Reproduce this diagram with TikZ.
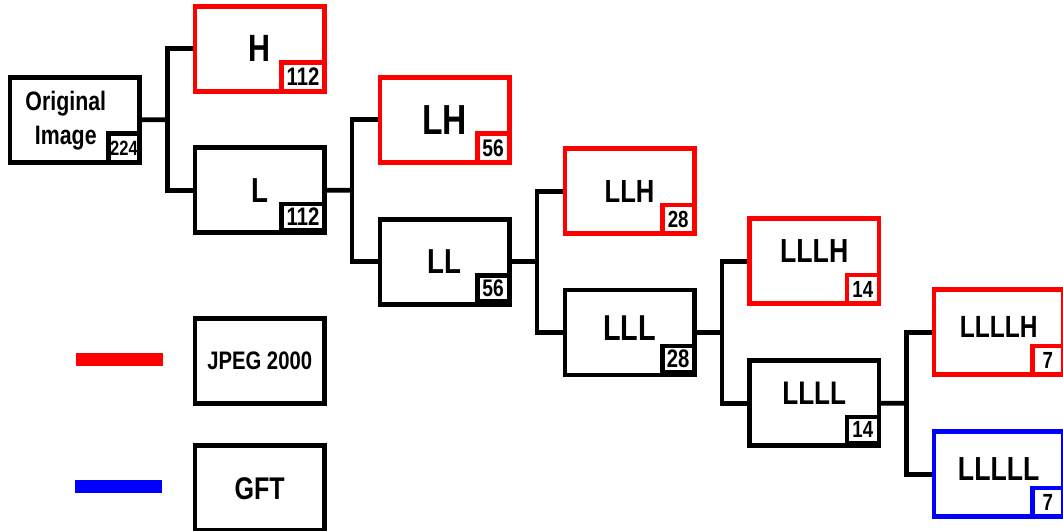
\documentclass[tikz,border=0pt]{standalone}
\usepackage{fontspec}
\setmainfont{Liberation Sans}[FakeStretch=0.8]
\usetikzlibrary{calc}

\definecolor{jpegred}{RGB}{255,0,0}
\definecolor{gftblue}{RGB}{0,0,255}

\newcommand{\fsz}[1]{\fontsize{#1}{1.2\dimexpr#1\relax}\selectfont\bfseries}

\begin{document}
\begin{tikzpicture}[x=0.75pt,y=-0.75pt,
  box/.style={draw=black,line width=3.5pt,minimum width=97pt,minimum height=63.75pt,
    inner sep=0pt,align=center},
  jbox/.style={box,draw=jpegred},
  gbox/.style={box,draw=gftblue},
  raise/.style={text depth=#1},
  tag/.style={draw=black,line width=3.5pt,fill=white,inner sep=0pt,
    minimum width=24pt,minimum height=21.5pt,anchor=south east,font=\fsz{18pt}},
  btag/.style={tag,minimum height=19.5pt,yshift=2.2pt},
  link/.style={draw=black,line width=3.5pt,line join=miter}
]
\useasboundingbox (0,0) rectangle (1063,531);

% ---- decomposition boxes ----
\node[box] (orig) at (74.8,119.8) {};
\node[font=\fontsize{20pt}{25pt}\selectfont\bfseries,align=center,inner sep=0pt]
  (origtxt) at ($(orig.center)+(-9,1)$) {Original\\Image};

\node[jbox,font=\fsz{28.5pt}] (H)  at (259.7,48.8)  {H};
\node[box, font=\fsz{26pt}]   (L)  at (259.7,190.3) {L};
\node[jbox,font=\fsz{31.5pt}] (LH) at (444.5,119.7) {LH};
\node[box, font=\fsz{26pt}]   (LL) at (444.5,261.7) {LL};
\node[jbox,font=\fsz{24pt}]   (LLH) at (629.5,191.2) {LLH};
\node[box, font=\fsz{27pt},raise=6.75pt]   (LLL) at (629.5,332.5) {LLL};
\node[jbox,font=\fsz{25pt},raise=15pt]     (LLLH) at (814.2,261.3) {LLLH};
\node[box, font=\fsz{24.5pt},raise=15pt]   (LLLL) at (814.2,403.3) {LLLL};
\node[jbox,font=\fsz{23pt},raise=7.5pt]    (LLLLH) at (998.7,332.3) {LLLLH};
\node[gbox,font=\fsz{25pt},raise=8.4pt]    (LLLLL) at (998.7,474.3) {LLLLL};

% ---- size tags in the lower right corners ----
\node[btag,minimum width=23.3pt,minimum height=21.5pt,yshift=-2.2pt,font=\fsz{15.5pt}] (t0) at (orig.south east) {224};
\node[tag,draw=jpegred,minimum width=32pt,font=\fsz{19pt}] (t1) at (H.south east) {112};
\node[btag,minimum width=32pt,font=\fsz{19pt}] (t2) at (L.south east) {112};
\node[tag,draw=jpegred] (t3) at (LH.south east) {56};
\node[btag] (t4) at (LL.south east) {56};
\node[tag,draw=jpegred,font=\fsz{17.5pt}] (t5) at (LLH.south east) {28};
\node[btag,font=\fsz{19pt}] (t6) at (LLL.south east) {28};
\node[tag,draw=jpegred,font=\fsz{17.5pt}] (t7) at (LLLH.south east) {14};
\node[btag,font=\fsz{17.5pt}] (t8) at (LLLL.south east) {14};
\node[tag,draw=jpegred,minimum width=23.3pt,font=\fsz{17.5pt}] (t9) at (LLLLH.south east) {7};
\node[tag,draw=gftblue,minimum width=23.3pt,font=\fsz{17.5pt}] (t10) at (LLLLL.south east) {7};

% ---- split connectors ----
\foreach \p/\hi/\lo in {orig/H/L, L/LH/LL, LL/LLH/LLL, LLL/LLLH/LLLL, LLLL/LLLLH/LLLLL}{
  \coordinate (j\p) at ($(\p.east)!0.5!(\lo.west |- \p.east)$);
  \draw[link] (\p.east) -- (j\p);
  \draw[link] (\hi.west) -| (j\p) |- (\lo.west);
}

% ---- legend ----
\fill[jpegred] (76,352.7) rectangle (163,365.7);
\fill[gftblue] (75,480.2) rectangle (162,493.2);
\node[box,font=\fsz{19pt}] (jpeg) at (259.7,360.7) {JPEG 2000};
\node[box,font=\fsz{23.5pt}] (gft) at (259.7,488.3) {GFT};
\end{tikzpicture}
\end{document}
